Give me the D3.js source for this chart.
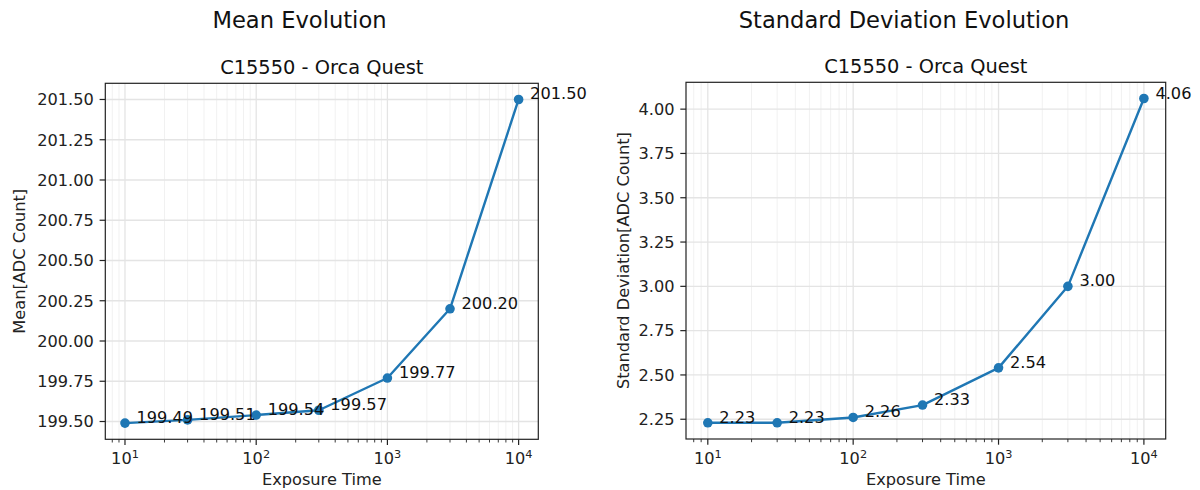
<!DOCTYPE html>
<html>
<head>
<meta charset="utf-8">
<script src="https://cdn.jsdelivr.net/npm/d3@7"></script>
<style>
  html, body { margin: 0; padding: 0; background: #fff; }
  svg { display: block; font-family: "DejaVu Sans", sans-serif; }
</style>
</head>
<body>
<svg id="chart" width="1200" height="490"></svg>
<script>
// ---- data ----
const exposureTimes = [10, 30, 100, 300, 1000, 3000, 10000];
const meanValues = [199.49, 199.51, 199.54, 199.57, 199.77, 200.20, 201.50];
const stdValues = [2.23, 2.23, 2.26, 2.33, 2.54, 3.00, 4.06];
const meanTicks = [199.50, 199.75, 200.00, 200.25, 200.50, 200.75, 201.00, 201.25, 201.50];
const stdTicks = [2.25, 2.50, 2.75, 3.00, 3.25, 3.50, 3.75, 4.00];
const xDecades = [10, 100, 1000, 10000];
const xExponents = ["1", "2", "3", "4"];
const panelTitles = ["Mean Evolution", "Standard Deviation Evolution"];
const subTitle = "C15550 - Orca Quest";
const yLabels = ["Mean[ADC Count]", "Standard Deviation[ADC Count]"];
const xLabel = "Exposure Time";

const svg = d3.select("#chart");
const BLUE = "#1f77b4";
const FS = 16.2;

function panel(cfg) {
  const { x0, x1, y0, y1, values, ticks, title, ylabel, titleX, ylabelX } = cfg;
  const g = svg.append("g");

  // log x domain with 5% margins in log space
  const lmin = Math.log10(d3.min(exposureTimes)), lmax = Math.log10(d3.max(exposureTimes));
  const lm = (lmax - lmin) * 0.05;
  const x = d3.scaleLog().domain([Math.pow(10, lmin - lm), Math.pow(10, lmax + lm)]).range([x0, x1]);
  const vmin = d3.min(values), vmax = d3.max(values), vm = (vmax - vmin) * 0.05;
  const y = d3.scaleLinear().domain([vmin - vm, vmax + vm]).range([y1, y0]);

  // minor ticks
  const [dlo, dhi] = x.domain();
  const minors = [];
  for (let e = Math.floor(Math.log10(dlo)); e <= Math.ceil(Math.log10(dhi)); e++) {
    for (let k = 2; k <= 9; k++) {
      const v = k * Math.pow(10, e);
      if (v >= dlo && v <= dhi) minors.push(v);
    }
  }

  // grid
  g.append("g").selectAll("line").data(minors).join("line")
    .attr("x1", d => x(d)).attr("x2", d => x(d)).attr("y1", y0).attr("y2", y1)
    .attr("stroke", "#f1f1f1").attr("stroke-width", 1);
  g.append("g").selectAll("line").data(xDecades).join("line")
    .attr("x1", d => x(d)).attr("x2", d => x(d)).attr("y1", y0).attr("y2", y1)
    .attr("stroke", "#e4e4e4").attr("stroke-width", 1.3);
  g.append("g").selectAll("line").data(ticks).join("line")
    .attr("x1", x0).attr("x2", x1).attr("y1", d => y(d)).attr("y2", d => y(d))
    .attr("stroke", "#e4e4e4").attr("stroke-width", 1.3);

  // line + markers
  const pts = exposureTimes.map((t, i) => [t, values[i]]);
  g.append("path").datum(pts)
    .attr("d", d3.line().x(d => x(d[0])).y(d => y(d[1])))
    .attr("fill", "none").attr("stroke", BLUE).attr("stroke-width", 2.4)
    .attr("stroke-linejoin", "round");
  g.append("g").selectAll("circle").data(pts).join("circle")
    .attr("cx", d => x(d[0])).attr("cy", d => y(d[1])).attr("r", 4.8).attr("fill", BLUE);

  // frame
  g.append("rect").attr("x", x0).attr("y", y0).attr("width", x1 - x0).attr("height", y1 - y0)
    .attr("fill", "none").attr("stroke", "#222").attr("stroke-width", 1.2);

  // x axis ticks
  const xa = g.append("g");
  xa.selectAll("line.minor").data(minors).join("line").attr("class", "minor")
    .attr("x1", d => x(d)).attr("x2", d => x(d)).attr("y1", y1).attr("y2", y1 + 3.2)
    .attr("stroke", "#222").attr("stroke-width", 0.9);
  xa.selectAll("line.major").data(xDecades).join("line").attr("class", "major")
    .attr("x1", d => x(d)).attr("x2", d => x(d)).attr("y1", y1).attr("y2", y1 + 5.7)
    .attr("stroke", "#222").attr("stroke-width", 1.2);
  const xt = xa.selectAll("text").data(xDecades).join("text")
    .attr("x", d => x(d)).attr("y", y1 + 25).attr("text-anchor", "middle")
    .attr("font-size", FS).attr("fill", "#222");
  xt.append("tspan").text("10");
  xt.append("tspan").attr("font-size", 11.3).attr("dy", -6.5).text((d, i) => xExponents[i]);

  // y axis ticks
  const ya = g.append("g");
  ya.selectAll("line").data(ticks).join("line")
    .attr("x1", x0 - 5.7).attr("x2", x0).attr("y1", d => y(d)).attr("y2", d => y(d))
    .attr("stroke", "#222").attr("stroke-width", 1.2);
  ya.selectAll("text").data(ticks).join("text")
    .attr("x", x0 - 11.5).attr("y", d => y(d)).attr("dy", "0.36em")
    .attr("text-anchor", "end").attr("font-size", FS).attr("fill", "#222")
    .text(d => d.toFixed(2));

  // annotations
  g.append("g").selectAll("text").data(pts).join("text")
    .attr("x", d => x(d[0]) + 11.5).attr("y", d => y(d[1]))
    .attr("font-size", FS).attr("fill", "#111")
    .text(d => d[1].toFixed(2));

  // titles & labels
  const cx = (x0 + x1) / 2;
  g.append("text").attr("x", titleX).attr("y", 28).attr("text-anchor", "middle")
    .attr("font-size", 22.6).attr("fill", "#111").text(title);
  g.append("text").attr("x", cx).attr("y", y0 - 9).attr("text-anchor", "middle")
    .attr("font-size", 19.4).attr("fill", "#111").text(subTitle);
  g.append("text").attr("x", cx).attr("y", 485).attr("text-anchor", "middle")
    .attr("font-size", FS).attr("fill", "#222").text(xLabel);
  g.append("text")
    .attr("transform", `translate(${ylabelX},${(y0 + y1) / 2}) rotate(-90)`)
    .attr("text-anchor", "middle").attr("font-size", FS).attr("fill", "#222").text(ylabel);
}

panel({ x0: 105.3, x1: 538.3, y0: 83.3, y1: 439.3, values: meanValues, ticks: meanTicks,
        title: panelTitles[0], ylabel: yLabels[0], titleX: 299.5, ylabelX: 25 });
panel({ x0: 686, x1: 1165.7, y0: 82.3, y1: 439, values: stdValues, ticks: stdTicks,
        title: panelTitles[1], ylabel: yLabels[1], titleX: 904, ylabelX: 629 });
</script>
</body>
</html>
